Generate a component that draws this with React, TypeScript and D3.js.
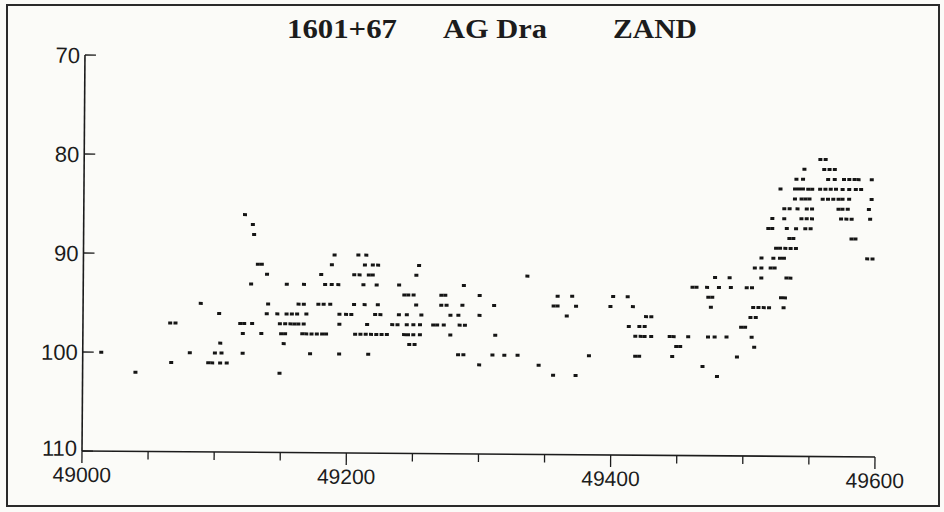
import React from "react";
import * as d3 from "d3";

const obs: [number, number][] = [
  [49014, 100], [49040, 102], [49066, 97], [49067, 101], [49070, 97], [49081, 100], [49089, 95],
  [49095, 101], [49098, 101], [49100, 100], [49103, 96], [49104, 99], [49104, 101], [49105, 100],
  [49109, 101], [49119, 97], [49121, 100], [49121, 98], [49122, 97], [49122, 86], [49127, 93],
  [49128, 87], [49128, 97], [49129, 88], [49132, 91], [49135, 91], [49135, 98], [49139, 92],
  [49139, 96], [49140, 95], [49147, 96], [49149, 102], [49149, 97], [49150, 98], [49152, 99],
  [49153, 97], [49153, 98], [49154, 93], [49154, 96], [49157, 97], [49158, 96], [49160, 97],
  [49162, 96], [49163, 97], [49163, 95], [49167, 95], [49167, 97], [49167, 93], [49166, 98],
  [49169, 96], [49169, 98], [49172, 100], [49173, 98], [49177, 98], [49178, 95], [49180, 92],
  [49181, 98], [49182, 95], [49183, 93], [49184, 98], [49187, 95], [49188, 93], [49188, 91],
  [49190, 90], [49193, 93], [49194, 97], [49194, 96], [49194, 100], [49199, 96], [49203, 96],
  [49205, 95], [49205, 92], [49206, 98], [49208, 90], [49209, 92], [49210, 98], [49212, 93],
  [49213, 95], [49213, 91], [49214, 90], [49214, 98], [49215, 97], [49216, 100], [49216, 92],
  [49218, 98], [49219, 92], [49219, 91], [49221, 96], [49222, 93], [49222, 98], [49223, 91],
  [49223, 95], [49225, 96], [49226, 98], [49230, 98], [49234, 97], [49238, 97], [49239, 93],
  [49239, 96], [49243, 94], [49246, 94], [49243, 98], [49246, 98], [49245, 96], [49245, 97],
  [49250, 97], [49255, 97], [49247, 99], [49251, 99], [49250, 94], [49250, 98], [49252, 92],
  [49252, 95], [49254, 91], [49255, 98], [49256, 96], [49265, 97], [49268, 97], [49271, 94],
  [49274, 94], [49271, 95], [49275, 95], [49273, 97], [49278, 96], [49278, 98], [49284, 96],
  [49285, 97], [49289, 97], [49284, 100], [49288, 100], [49287, 95], [49288, 93], [49300, 101],
  [49300, 94], [49300, 96], [49310, 100], [49311, 95], [49312, 98], [49319, 100], [49329, 100],
  [49336, 92], [49345, 101], [49356, 102], [49356, 95], [49359, 95], [49359, 94], [49366, 96],
  [49370, 94], [49373, 102], [49373, 95], [49383, 100], [49399, 95], [49401, 94], [49412, 94],
  [49413, 97], [49416, 95], [49418, 98], [49422, 98], [49425, 98], [49418, 100], [49421, 100],
  [49421, 97], [49425, 97], [49426, 96], [49430, 96], [49430, 98], [49444, 98], [49447, 98],
  [49446, 100], [49449, 99], [49452, 99], [49458, 98], [49461, 93], [49464, 93], [49469, 101],
  [49472, 93], [49473, 98], [49473, 94], [49476, 94], [49475, 95], [49478, 92], [49478, 98],
  [49480, 102], [49481, 93], [49487, 98], [49489, 92], [49490, 93], [49495, 100], [49498, 97],
  [49501, 97], [49502, 93], [49506, 93], [49506, 98], [49505, 96], [49509, 96], [49507, 95],
  [49511, 95], [49515, 95], [49519, 95], [49508, 99], [49508, 91], [49513, 91], [49513, 92],
  [49513, 90], [49518, 87], [49521, 87], [49521, 86], [49520, 91], [49523, 91], [49522, 90],
  [49524, 89], [49527, 89], [49531, 89], [49535, 89], [49539, 89], [49527, 83], [49527, 90],
  [49530, 90], [49530, 85], [49534, 85], [49540, 85], [49530, 86], [49528, 94], [49531, 94],
  [49530, 95], [49532, 87], [49532, 92], [49535, 92], [49534, 88], [49537, 88], [49538, 84],
  [49538, 83], [49541, 83], [49544, 83], [49548, 83], [49551, 83], [49539, 82], [49539, 87],
  [49543, 84], [49546, 84], [49549, 84], [49543, 86], [49547, 86], [49551, 86], [49544, 82],
  [49545, 81], [49546, 87], [49550, 87], [49547, 85], [49551, 85], [49557, 83], [49561, 83],
  [49557, 80], [49561, 80], [49559, 84], [49563, 84], [49567, 84], [49571, 84], [49574, 84],
  [49560, 81], [49563, 82], [49568, 82], [49564, 81], [49568, 81], [49565, 83], [49569, 83],
  [49574, 83], [49571, 85], [49574, 85], [49578, 85], [49573, 86], [49577, 86], [49581, 86],
  [49575, 82], [49579, 82], [49583, 82], [49586, 82], [49579, 83], [49584, 83], [49579, 84],
  [49581, 88], [49584, 88], [49588, 83], [49594, 85], [49595, 86], [49593, 90], [49597, 90],
  [49596, 82], [49596, 84],
];

const titleParts = ["1601+67", "AG Dra", "ZAND"];
const yTicks = [70, 80, 90, 100, 110];
const xLabels = [49000, 49200, 49400, 49600];
const xMinor = d3.range(49000, 49601, 50);

export default function App() {
  const width = 944;
  const height = 512;
  const x = d3.scaleLinear().domain([49000, 49600]).range([82, 875]);
  const y = d3.scaleLinear().domain([70, 110]).range([55, 451]);
  const ink = "#1c1c1c";
  const sans = "'Liberation Sans', Arial, sans-serif";

  // title pieces placed by their left edge
  const titleX = [287, 443, 613];
  const titleW = [110, 104, 84];

  return (
    <svg
      width={width}
      height={height}
      style={{ position: "absolute", left: 0, top: 0, display: "block" }}
    >
      <rect width={width} height={height} fill="#fbfbf8" />
      <rect x={7} y={5} width={932} height={501} fill="none" stroke="#2a2a2a" strokeWidth={2} />

      {titleParts.map((t, i) => (
        <text
          key={t}
          x={titleX[i]}
          y={38}
          fontFamily="'Liberation Serif', 'Times New Roman', serif"
          fontWeight="bold"
          fontSize={27}
          fill={ink}
          textLength={titleW[i]}
          lengthAdjust="spacingAndGlyphs"
        >
          {t}
        </text>
      ))}

      {/* slight scan tilt of the plot */}
      <g transform="rotate(0.43, 82, 451)">
        <line x1={x(49000)} x2={x(49000)} y1={y(70)} y2={y(110)} stroke={ink} strokeWidth={1.6} />
        <line x1={x(49000)} x2={x(49600)} y1={y(110)} y2={y(110)} stroke={ink} strokeWidth={1.6} />

        {yTicks.map((v) => (
          <g key={v}>
            <line x1={x(49000)} x2={x(49000) + 11} y1={y(v)} y2={y(v)} stroke={ink} strokeWidth={1.4} />
            <text
              x={x(49000) - 5}
              y={y(v) + (v === 110 ? 5 : 8)}
              textAnchor="end"
              fontFamily={sans}
              fontSize={22}
              fill={ink}
            >
              {v}
            </text>
          </g>
        ))}

        {xMinor.map((v) => (
          <line
            key={v}
            x1={x(v)}
            x2={x(v)}
            y1={y(110)}
            y2={y(110) + (v % 200 === 0 ? 12 : 8)}
            stroke={ink}
            strokeWidth={1.3}
          />
        ))}
        {xLabels.map((v) => (
          <text
            key={v}
            x={x(v)}
            y={y(110) + 31}
            textAnchor="middle"
            fontFamily={sans}
            fontSize={21}
            fill={ink}
          >
            {v}
          </text>
        ))}

        {obs.map(([jd, m], i) => (
          <rect
            key={i}
            x={x(jd) - 2}
            y={y(m) - 1.5}
            width={4}
            height={3}
            fill="#151515"
          />
        ))}
      </g>
    </svg>
  );
}
